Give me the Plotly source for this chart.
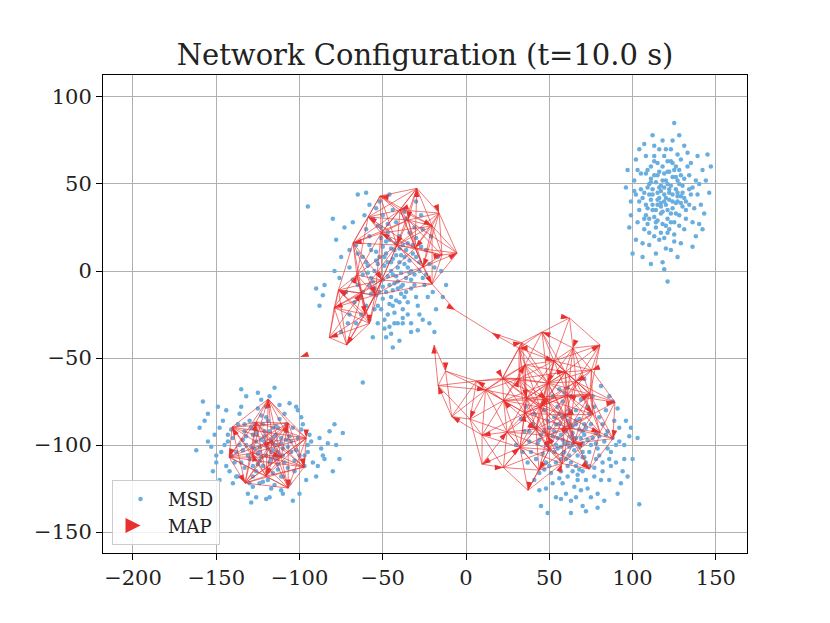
import math
import plotly.graph_objects as go

# MSD positions, one list per cluster
msd_nord = [
    (-45, 0), (-40, 5), (-50, -5), (-38, -8), (-52, 8), (-43, 12), (-35, 2), (-48, -12), (-55, 0), (-42, -3),
    (-30, 8), (-58, -8), (-46, 18), (-37, -15), (-60, 5), (-33, -5), (-50, 14), (-44, -20), (-28, 0), (-54, -14),
    (-40, 20), (-62, -2), (-36, 12), (-47, -25), (-32, 15), (-57, 12), (-41, -10), (-49, 3), (-39, -1), (-44, 7),
    (-65, 10), (-25, -8), (-51, 25), (-35, -25), (-68, -5), (-27, 14), (-46, -32), (-58, 20), (-30, -15), (-53, -20),
    (-42, 28), (-70, 2), (-22, 4), (-48, -38), (-63, -15), (-34, 22), (-56, 30), (-38, -30), (-75, 8), (-20, -12),
    (-45, -15), (-52, -2), (-37, 4), (-43, -7), (-48, 10), (-40, -18), (-55, -10), (-33, -10), (-47, 22), (-60, -20),
    (-29, -20), (-66, 15), (-44, 35), (-53, -30), (-24, 12), (-72, -12), (-36, 30), (-58, -28), (-31, 25), (-79, 0),
    (-41, 2), (-46, -8), (-39, 9), (-50, -16), (-35, -18), (-54, 6), (-42, 16), (-57, -4), (-38, -22), (-49, -28),
    (-85, -8), (-18, -22), (-61, 32), (-26, -28), (-78, 18), (-15, 0), (-52, 40), (-33, -35), (-70, -25), (-21, 20),
    (-90, -10), (-14, -15), (-65, 44), (-40, -40), (-86, -14), (-46, 44), (-27, 32), (-73, 25), (-56, -38), (-17, 8),
    (-44, -2), (-38, 15), (-51, -22), (-34, 6), (-59, -1), (-47, 5), (-31, -2), (-62, -12), (-43, -30), (-36, -12),
    (-88, -20), (-19, -35), (-66, -30), (-24, -2), (-80, 30), (-30, 40), (-12, -8), (-60, 45), (-29, -34), (-75, -35),
    (-47, -3), (-42, 9), (-53, 4), (-36, -4), (-45, 13), (-50, -9), (-39, -13), (-56, -6), (-33, 0), (-44, -11),
    (-48, 17), (-41, -6), (-54, 11), (-37, 8), (-46, -19), (-59, 3), (-31, -8), (-51, 19), (-40, 13), (-43, -24),
    (-28, 5), (-57, -13), (-35, 16), (-49, -33), (-62, 8), (-26, -4), (-53, 26), (-38, -27), (-65, -8), (-30, 19),
    (-45, 5), (-39, -9), (-52, -12), (-34, -1), (-47, 27), (-58, 15), (-42, -17), (-55, -22), (-32, 10), (-49, 8),
    (-67, -18), (-23, -15), (-60, 24), (-37, 34), (-70, 12), (-28, -25), (-54, 36), (-45, -36), (-76, -4), (-19, 2),
    (-41, -30), (-63, -25), (-50, 32), (-26, 24), (-71, -30), (-44, -44), (-33, -30), (-58, 38), (-22, -30), (-68, 28),
    (-95, 37), (-62, -64),
]

msd_est = [
    (65, -98), (60, -92), (70, -104), (58, -105), (72, -90), (63, -110), (55, -96), (68, -85), (75, -100), (62, -101),
    (50, -90), (78, -108), (66, -80), (57, -115), (80, -95), (53, -104), (70, -115), (61, -86), (48, -100), (74, -82),
    (67, -120), (85, -102), (56, -82), (77, -118), (45, -94), (82, -88), (64, -93), (59, -99), (69, -96), (71, -107),
    (42, -108), (88, -96), (63, -72), (52, -122), (90, -110), (47, -80), (73, -125), (58, -75), (84, -80), (40, -88),
    (66, -130), (95, -100), (54, -130), (92, -90), (38, -98), (79, -128), (61, -67), (86, -120), (44, -116), (76, -72),
    (65, -103), (60, -108), (68, -91), (57, -94), (73, -97), (62, -88), (54, -110), (78, -93), (66, -112), (51, -98),
    (35, -92), (98, -95), (70, -135), (48, -125), (88, -75), (56, -68), (83, -132), (41, -82), (94, -115), (37, -110),
    (103, -96), (30, -100), (63, -139), (81, -66), (45, -135), (100, -108), (52, -72), (91, -128), (33, -85), (71, -62),
    (64, -96), (59, -104), (70, -99), (56, -88), (74, -112), (61, -118), (67, -106), (53, -92), (79, -102), (62, -80),
    (46, -105), (86, -108), (58, -122), (75, -88), (49, -86), (82, -115), (69, -126), (55, -78), (90, -100), (43, -99),
    (66, -88), (72, -120), (50, -112), (77, -78), (60, -128), (84, -94), (39, -104), (96, -86), (49, -139), (104, -134),
    (36, -78), (93, -122), (47, -92), (80, -84), (64, -115), (54, -100), (71, -94), (58, -84), (87, -112), (41, -120),
    (63, -95), (68, -101), (59, -90), (72, -110), (55, -102), (76, -96), (61, -112), (66, -86), (52, -95), (80, -106),
    (64, -100), (70, -92), (57, -108), (74, -104), (60, -83), (67, -117), (50, -103), (83, -98), (58, -97), (71, -88),
    (62, -106), (77, -113), (54, -88), (85, -92), (65, -124), (48, -110), (73, -78), (87, -104), (56, -119), (69, -74),
    (81, -120), (44, -97), (92, -98), (63, -132), (75, -130), (51, -116), (89, -86), (59, -70), (42, -90), (95, -108),
    (66, -96), (61, -99), (70, -107), (57, -101), (78, -99), (64, -89), (53, -84), (82, -110), (68, -114), (47, -114),
    (97, -118), (38, -92), (86, -72), (72, -138), (99, -90), (34, -104), (57, -131), (91, -79), (44, -126), (79, -136),
]

msd_ouest = [
    (-120, -100), (-115, -95), (-125, -105), (-110, -102), (-128, -94), (-118, -110), (-132, -100), (-108, -92), (-122, -88), (-114, -108),
    (-135, -110), (-105, -98), (-126, -115), (-112, -85), (-140, -96), (-100, -106), (-119, -120), (-130, -86), (-103, -115), (-138, -104),
    (-116, -99), (-123, -97), (-111, -96), (-127, -102), (-117, -104), (-121, -92), (-109, -110), (-133, -92), (-113, -90), (-124, -109),
    (-145, -100), (-95, -100), (-120, -78), (-128, -124), (-98, -88), (-142, -115), (-106, -122), (-136, -82), (-92, -110), (-148, -90),
    (-118, -72), (-131, -128), (-101, -80), (-150, -106), (-88, -96), (-125, -70), (-110, -128), (-144, -80), (-90, -118), (-155, -98),
    (-119, -102), (-114, -100), (-126, -98), (-110, -106), (-122, -112), (-116, -90), (-130, -108), (-107, -101), (-134, -97), (-113, -114),
    (-82, -92), (-158, -75), (-120, -131), (-140, -122), (-85, -108), (-152, -115), (-100, -128), (-132, -72), (-78, -100), (-160, -90),
    (-123, -83), (-104, -90), (-137, -118), (-97, -112), (-146, -86), (-112, -77), (-128, -118), (-94, -94), (-141, -106), (-117, -125),
    (-74, -93), (-162, -103), (-115, -67), (-126, -130), (-76, -108), (-155, -82), (-104, -132), (-148, -120), (-80, -115), (-135, -68),
    (-121, -95), (-117, -108), (-124, -101), (-108, -97), (-129, -90), (-113, -104), (-119, -86), (-133, -113), (-102, -103), (-126, -92),
    (-99, -84), (-143, -94), (-111, -118), (-137, -88), (-95, -104), (-124, -122), (-106, -76), (-150, -110), (-87, -102), (-116, -116),
    (-121, -98), (-116, -103), (-126, -94), (-111, -99), (-123, -107), (-118, -92), (-129, -101), (-113, -111), (-106, -95), (-131, -106),
    (-119, -115), (-108, -88), (-127, -88), (-114, -94), (-136, -100), (-103, -109), (-122, -121), (-133, -88), (-110, -118), (-139, -110),
    (-117, -97), (-124, -104), (-112, -106), (-128, -112), (-105, -104), (-120, -84), (-134, -103), (-101, -96), (-143, -98), (-115, -123),
    (-125, -79), (-97, -106), (-130, -122), (-109, -82), (-147, -104), (-93, -98), (-138, -118), (-118, -130), (-151, -94), (-89, -112),
    (-120, -106), (-114, -89), (-132, -95), (-107, -113), (-125, -111), (-99, -91), (-141, -91), (-111, -126), (-135, -78), (-86, -106),
    (-153, -101), (-102, -78), (-144, -112), (-96, -120), (-157, -86), (-123, -74), (-83, -99), (-129, -133), (-149, -78), (-79, -88),
]

msd_nordest = [
    (119, 40), (115, 45), (124, 36), (110, 30), (128, 50), (121, 22), (113, 55), (131, 42), (106, 42), (117, 33),
    (125, 58), (109, 48), (122, 47), (114, 25), (132, 30), (104, 35), (127, 40), (118, 60), (112, 38), (120, 52),
    (136, 48), (101, 52), (123, 28), (116, 18), (129, 64), (107, 24), (119, 44), (126, 33), (111, 60), (134, 55),
    (115, 38), (122, 41), (108, 56), (130, 37), (117, 49), (124, 54), (113, 31), (121, 35), (105, 47), (128, 26),
    (139, 44), (99, 40), (120, 13), (116, 70), (133, 68), (110, 15), (126, 47), (118, 27), (112, 44), (123, 63),
    (137, 36), (103, 28), (119, 56), (125, 21), (114, 51), (131, 53), (109, 36), (121, 30), (127, 45), (116, 42),
    (142, 58), (97, 58), (118, 5), (124, 75), (106, 8), (140, 27), (113, 66), (129, 16), (102, 64), (135, 62),
    (120, 38), (117, 46), (123, 49), (111, 41), (126, 39), (115, 29), (122, 57), (119, 19), (108, 32), (130, 45),
    (145, 67), (98, 25), (121, -6), (125, 85), (112, 78), (146, 45), (100, 10), (138, 20), (104, 70), (143, 33),
    (114, 35), (127, 52), (118, 34), (110, 50), (124, 44), (116, 57), (132, 40), (107, 45), (121, 63), (128, 32),
    (113, 20), (119, 48), (126, 60), (109, 27), (134, 47), (117, 39), (122, 24), (111, 53), (129, 43), (115, 62),
    (136, 28), (105, 56), (120, 70), (123, 12), (102, 44), (140, 50), (114, 10), (131, 72), (108, 66), (127, 8),
    (120, 42), (116, 48), (123, 33), (112, 35), (127, 43), (118, 52), (125, 28), (110, 44), (121, 57), (130, 49),
    (114, 28), (124, 62), (108, 38), (132, 35), (117, 22), (126, 54), (111, 51), (129, 39), (119, 66), (104, 40),
    (122, 45), (115, 41), (128, 58), (113, 63), (135, 44), (107, 30), (120, 26), (133, 60), (109, 58), (125, 17),
    (138, 52), (101, 46), (118, 75), (131, 24), (106, 16), (141, 38), (113, 72), (127, 67), (99, 32), (136, 14),
    (121, 50), (117, 37), (124, 40), (112, 47), (129, 55), (115, 55), (134, 38), (110, 22), (123, 70), (103, 58),
    (144, 52), (96, 48), (119, 1), (128, 78), (107, 73), (147, 60), (102, 18), (139, 66), (111, 4), (142, 24),
]

# MAP nodes: x, y, heading (deg, clockwise from up), group
map_x = [
    -29.6, -51.6, -39.6, -58.8, -34.8, -16.2, -20.4, -51.0, -67.8, -41.4, -30.6, -14.4, -5.4, -25.8, -20.4,
    -65.6, -50.6, -76.6, -62.6, -54.6, -79.2, -60.6, -58.0, -82.1, -71.7,
    -6.6, 15.6,
    33.4, -19.2, 62.1, 45.6, 80.4, 64.2, 31.8, 52.8, 35.4, -12.3, 75.3, 59.7, 6.3, 21.9, 31.8, 66.0, 49.2,
    -16.8, 11.7, 60.9, 74.4, 36.3, 22.5, 48.3, 89.4, 44.4, 35.4, 59.4, 76.2, -8.6, 2.4, 24.6, 9.6, 42.0,
    62.4, 48.9, 80.4, 88.2, 64.8, 32.4, 49.8, 9.6, 22.4, 43.8, 57.6, 74.1, 37.2,
    -118.8, -126.1, -106.8, -140.5, -116.4, -96.0, -128.5, -111.0, -142.3, -97.2, -120.0, -132.7, -106.8,
    -99.6,
]
map_y = [
    47.5, 43.1, 35.1, 31.0, 29.3, 33.3, 25.9, 21.8, 16.1, 14.9, 13.2, 9.2, 10.3, 2.3, -7.5,
    -2.3, -5.2, -10.9, -12.8, -13.8, -21.1, -24.9, -30.1, -38.3, -42.5,
    -22.4, -35.6,
    -41.2, -42.5, -27.0, -35.1, -42.5, -44.3, -44.3, -51.7, -54.0, -57.5, -56.9, -58.0, -63.2, -61.5, -61.8, -63.5, -64.4,
    -65.8, -68.4, -71.3, -70.7, -73.0, -74.4, -73.9, -75.3, -78.2, -81.6, -82.8, -82.2, -83.6, -85.1, -92.5, -94.3, -90.8,
    -90.2, -94.5, -92.8, -96.3, -98.9, -101.4, -102.6, -111.0, -112.9, -114.4, -110.6, -113.8, -126.0,
    -73.6, -86.8, -87.4, -89.7, -97.7, -96.0, -104.6, -106.9, -106.9, -112.6, -117.8, -121.8, -124.7,
    -49.4,
]
map_cap = [
    0, 280, 250, 300, 190, 160, 120, 300, 260, 200, 220, 80, 60, 200, 150,
    20, 150, 300, 40, 160, 250, 170, 180, 250, 210,
    120, 300,
    80, 0, 100, 290, 60, 200, 270, 110, 30, 180, 250, 90, 300, 150, 20, 240, 200,
    340, 100, 290, 60, 170, 320, 130, 80, 220, 10, 250, 140, 300, 200, 40, 260, 120,
    70, 330, 110, 190, 280, 50, 160, 240, 90, 210, 20, 130, 190,
    0, 10, 20, 330, 60, 180, 340, 110, 200, 170, 200, 150, 180,
    250,
]
map_groupe = ["N"] * 25 + ["C"] * 2 + ["E"] * 47 + ["W"] * 13 + ["S"]
portee = {"N": 36, "E": 30, "W": 46}
# links between groups / chain, as node index pairs
liens_pont = [(14, 25), (25, 26), (26, 27), (26, 33)]

# colours
bleu = "#6aaee0"
rouge = "#e8302f"

msd = msd_nord + msd_est + msd_ouest + msd_nordest

aretes_x, aretes_y = [], []
n = len(map_x)
for i in range(n):
    for j in range(i + 1, n):
        gi, gj = map_groupe[i], map_groupe[j]
        if gi != gj or gi not in portee:
            continue
        d = math.hypot(map_x[i] - map_x[j], map_y[i] - map_y[j])
        if d <= portee[gi]:
            aretes_x += [map_x[i], map_x[j], None]
            aretes_y += [map_y[i], map_y[j], None]
for i, j in liens_pont:
    aretes_x += [map_x[i], map_x[j], None]
    aretes_y += [map_y[i], map_y[j], None]

fig = go.Figure()

fig.add_trace(go.Scatter(
    x=[p[0] for p in msd], y=[p[1] for p in msd],
    mode="markers", name="MSD",
    marker=dict(color=bleu, size=4.5, line=dict(width=0)),
))

fig.add_trace(go.Scatter(
    x=aretes_x, y=aretes_y, mode="lines", showlegend=False,
    line=dict(color="rgba(232,48,47,0.72)", width=0.9),
    hoverinfo="skip",
))

fig.add_trace(go.Scatter(
    x=map_x, y=map_y, mode="markers", showlegend=False,
    marker=dict(symbol="arrow", size=9, angle=map_cap, color=rouge, line=dict(width=0)),
))

# legend entry for MAP
fig.add_trace(go.Scatter(
    x=[None], y=[None], mode="markers", name="MAP",
    marker=dict(symbol="arrow-right", size=15, color=rouge),
))

axe = dict(
    showline=True, mirror=True, linecolor="black", linewidth=1,
    ticks="outside", ticklen=6, tickwidth=1, tickcolor="black",
    showgrid=True, gridcolor="#b0b0b0", gridwidth=1, zeroline=False,
    tickfont=dict(family="DejaVu Serif", size=21, color="#222"),
)

fig.update_layout(
    width=830, height=623,
    margin=dict(l=95, r=91, t=67, b=78),
    paper_bgcolor="white", plot_bgcolor="white",
    title=dict(
        text="Network Configuration (t=10.0 s)",
        x=0.5, xref="paper", xanchor="center", y=0.925, yanchor="middle",
        font=dict(family="DejaVu Serif", size=29, color="#222"),
    ),
    xaxis=dict(axe, range=[-218, 168.7], tickvals=[-200, -150, -100, -50, 0, 50, 100, 150]),
    yaxis=dict(axe, range=[-162, 112.6], tickvals=[-150, -100, -50, 0, 50, 100]),
    legend=dict(
        x=0.014, y=0.017, xanchor="left", yanchor="bottom",
        bgcolor="rgba(255,255,255,0.85)", bordercolor="#cccccc", borderwidth=1,
        font=dict(family="DejaVu Serif", size=18, color="#222"),
        itemsizing="trace", itemwidth=45,
    ),
    showlegend=True,
)

fig.write_html("out.html")
